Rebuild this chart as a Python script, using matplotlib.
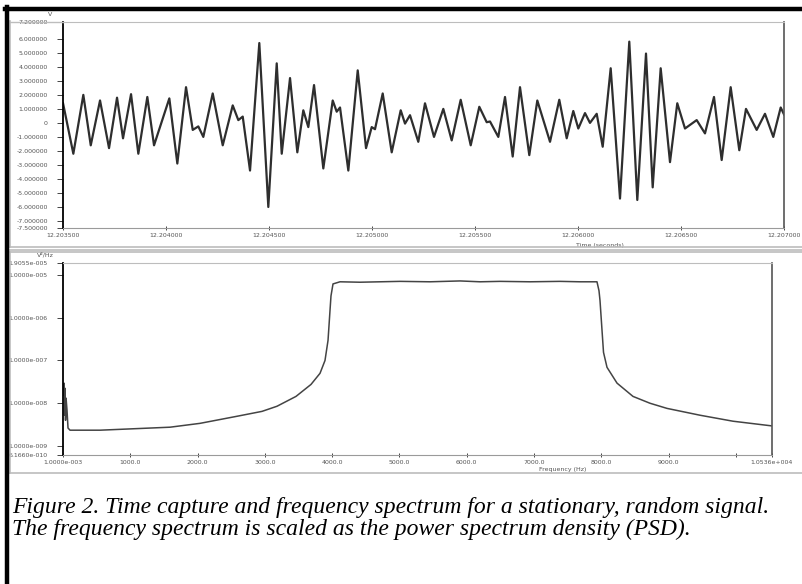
import matplotlib
matplotlib.use('Agg')
import matplotlib.pyplot as plt
import numpy as np
from matplotlib.lines import Line2D
from matplotlib.ticker import FixedLocator, FixedFormatter, NullLocator

# time capture: extrema (time in microseconds from start, volts)
sig_t_us = [0, 50, 98.5, 134.5, 179.6, 223.3, 262.1, 291.2, 330.1, 365.5,
            409.2, 441.7, 516, 554.8, 597, 629.6, 656.7, 681, 726.6, 775.2,
            823.7, 850.9, 872.3, 907.7, 952.8, 996.5, 1037.3, 1061.6, 1101.9, 1137.3,
            1166.4, 1190.7, 1218.4, 1263.5, 1309.1, 1328.5, 1344.6, 1384.9, 1430.5, 1470.8,
            1498.4, 1514.4, 1551.8, 1595.5, 1639.2, 1660.1, 1684.3, 1724.6, 1757.1, 1800.8,
            1846, 1886.7, 1930.4, 1979, 2020.7, 2056.6, 2072.7, 2113, 2145.5, 2182.8,
            2218.3, 2263.4, 2302.3, 2364, 2409, 2445, 2477, 2501.3, 2533.8, 2558,
            2590.6, 2619.7, 2658.5, 2703.7, 2748.8, 2787.7, 2829.9, 2862.4, 2901.2, 2946.4,
            2981.8, 3019.2, 3076, 3116.3, 3160, 3197.3, 3241, 3282.8, 3315.3, 3367.2,
            3407.5, 3447.8, 3483.8, 3500]
sig_v = [1.4, -2.2, 2.0, -1.6, 1.6, -1.8, 1.8, -1.1, 2.05, -2.2,
         1.85, -1.6, 1.75, -2.9, 2.55, -0.5, -0.25, -1.0, 2.1, -1.6,
         1.25, 0.2, 0.45, -3.4, 5.7, -6.0, 4.25, -2.2, 3.2, -2.1,
         0.9, -0.3, 2.7, -3.25, 1.6, 0.8, 1.1, -3.4, 3.75, -1.8,
         -0.3, -0.45, 2.1, -2.1, 0.9, -0.05, 0.55, -1.35, 1.4, -1.0,
         1.0, -1.25, 1.65, -1.6, 1.15, 0.05, 0.1, -1.0, 1.85, -2.4,
         2.55, -2.3, 1.6, -1.35, 1.65, -1.1, 0.85, -0.4, 0.7, 0.0,
         0.65, -1.7, 3.9, -5.4, 5.8, -5.5, 4.95, -4.6, 3.9, -2.8,
         1.4, -0.4, 0.2, -0.75, 1.85, -2.65, 2.55, -1.95, 1.0, -0.5,
         0.65, -1.0, 1.1, 0.6]

# power spectrum density: frequency (Hz) and log10 of the PSD value
psd_f = [0, 15, 22, 30, 37, 45, 59, 74, 104, 550,
         996, 1590, 2036, 2600, 2957, 3180, 3462, 3685, 3819, 3893,
         3938, 3967, 3982, 4012, 4116, 4413, 5008, 5454, 5900, 6197,
         6494, 6940, 7386, 7683, 7935, 7965, 7980, 7995, 8010, 8032,
         8084, 8233, 8470, 8723, 8975, 9466, 9956, 10536]
psd_exp = [-7.81, -7.53, -8.28, -7.65, -8.40, -7.88, -8.16, -8.58, -8.63, -8.63,
           -8.60, -8.56, -8.47, -8.30, -8.19, -8.07, -7.84, -7.56, -7.30, -7.0,
           -6.53, -5.84, -5.49, -5.21, -5.16, -5.17, -5.15, -5.16, -5.14, -5.16,
           -5.15, -5.16, -5.15, -5.16, -5.16, -5.37, -5.60, -5.95, -6.30, -6.81,
           -7.16, -7.53, -7.84, -8.0, -8.12, -8.28, -8.42, -8.53]

time_ticks = [0, 500, 1000, 1500, 2000, 2500, 3000, 3500]
time_labels = ['12.203500', '12.204000', '12.204500', '12.205000',
               '12.205500', '12.206000', '12.206500', '12.207000']
volt_ticks = [-7.5, -7, -6, -5, -4, -3, -2, -1, 0, 1, 2, 3, 4, 5, 6, 7.2]
volt_labels = ['-7.500000', '-7.000000', '-6.000000', '-5.000000', '-4.000000',
               '-3.000000', '-2.000000', '-1.000000', '0', '1.000000', '2.000000',
               '3.000000', '4.000000', '5.000000', '6.000000', '7.200000']
freq_ticks = [0, 1000, 2000, 3000, 4000, 5000, 6000, 7000, 8000, 9000, 10536]
freq_labels = ['1.0000e-003', '1000.0', '2000.0', '3000.0', '4000.0', '5000.0',
               '6000.0', '7000.0', '8000.0', '9000.0', '1.0536e+004']
psd_ticks = [6.166e-10, 1e-9, 1e-8, 1e-7, 1e-6, 1e-5, 1.9055e-5]
psd_labels = ['6.1660e-010', '1.0000e-009', '1.0000e-008', '1.0000e-007',
              '1.0000e-006', '1.0000e-005', '1.9055e-005']

tick_col = '#555555'

fig = plt.figure(figsize=(8.02, 5.84), dpi=100)
fig.patch.set_facecolor('white')


def style_axes(ax):
    ax.spines['left'].set_color('black')
    ax.spines['left'].set_linewidth(1.3)
    ax.spines['bottom'].set_color('#9a9a9a')
    ax.spines['top'].set_color('#bdbdbd')
    ax.spines['right'].set_color('#555555')
    ax.spines['right'].set_linewidth(1.2)
    ax.tick_params(axis='y', direction='out', length=4, width=0.7, color='#444444',
                   pad=7, labelsize=4.5, labelcolor=tick_col)
    ax.tick_params(axis='x', direction='inout', length=3, width=0.7, color='#444444',
                   pad=2, labelsize=4.5, labelcolor=tick_col)


# top panel: time capture
ax1 = fig.add_axes([0.0786, 0.6096, 0.899, 0.3527])
ax1.plot(sig_t_us, sig_v, color='#2e2e2e', lw=1.6, solid_joinstyle='round')
ax1.set_xlim(0, 3500)
ax1.set_ylim(-7.5, 7.2)
ax1.xaxis.set_major_locator(FixedLocator(time_ticks))
ax1.xaxis.set_major_formatter(FixedFormatter(time_labels))
ax1.yaxis.set_major_locator(FixedLocator(volt_ticks))
ax1.yaxis.set_major_formatter(FixedFormatter(volt_labels))
style_axes(ax1)
ax1.text(0.745, -0.085, 'Time (seconds)', transform=ax1.transAxes, fontsize=4.5,
         color=tick_col, ha='center', va='center')
fig.text(50 / 802, 1 - 14 / 584, 'V', fontsize=4.5, color=tick_col,
         ha='center', va='center')

# bottom panel: PSD
ax2 = fig.add_axes([0.0786, 0.2209, 0.884, 0.3288])
ax2.plot(psd_f, 10.0 ** np.array(psd_exp), color='#444444', lw=1.1)
ax2.set_yscale('log')
ax2.set_xlim(0, 10536)
ax2.set_ylim(6.166e-10, 1.9055e-5)
ax2.xaxis.set_major_locator(FixedLocator(freq_ticks))
ax2.xaxis.set_major_formatter(FixedFormatter(freq_labels))
ax2.xaxis.set_minor_locator(FixedLocator([10000]))
ax2.yaxis.set_major_locator(FixedLocator(psd_ticks))
ax2.yaxis.set_major_formatter(FixedFormatter(psd_labels))
ax2.yaxis.set_minor_locator(NullLocator())
style_axes(ax2)
ax2.tick_params(axis='x', which='minor', direction='inout', length=3, width=0.7,
                color='#444444')
ax2.text(0.705, -0.075, 'Frequency (Hz)', transform=ax2.transAxes, fontsize=4.5,
         color=tick_col, ha='center', va='center')
fig.text(45 / 802, 1 - 255 / 584, 'V\u00b2/Hz', fontsize=4.5, color=tick_col,
         ha='center', va='center')


def fx(px):
    return px / 802


def fy(py):
    return 1 - py / 584


# panel frames (light grey) and the black page border
frame_col = '#bcbcbc'
for seg in [((10, 10), (21, 247)), ((10, 802), (247, 247)), ((10, 802), (250, 250)),
            ((10, 802), (252, 252)), ((10, 10), (252, 473)), ((10, 802), (473, 473))]:
    (x0, x1), (y0, y1) = seg
    fig.add_artist(Line2D([fx(x0), fx(x1)], [fy(y0), fy(y1)], color=frame_col, lw=1.2))
fig.add_artist(Line2D([fx(10), fx(63)], [fy(21.5), fy(21.5)], color='#bdbdbd', lw=1.0))
fig.add_artist(Line2D([fx(5), fx(802)], [fy(8.5), fy(8.5)], color='black', lw=3.2))
fig.add_artist(Line2D([fx(6.5), fx(6.5)], [fy(7), fy(584)], color='black', lw=3.2))

# caption
cap_font = dict(family=['Liberation Serif', 'DejaVu Serif'], style='italic', size=17)
fig.text(fx(12), fy(513), 'Figure 2. Time capture and frequency spectrum for a '
         'stationary, random signal.', va='baseline', ha='left', **cap_font)
fig.text(fx(12), fy(535), 'The frequency spectrum is scaled as the power spectrum '
         'density (PSD).', va='baseline', ha='left', **cap_font)

fig.savefig('out.png', dpi=100)
